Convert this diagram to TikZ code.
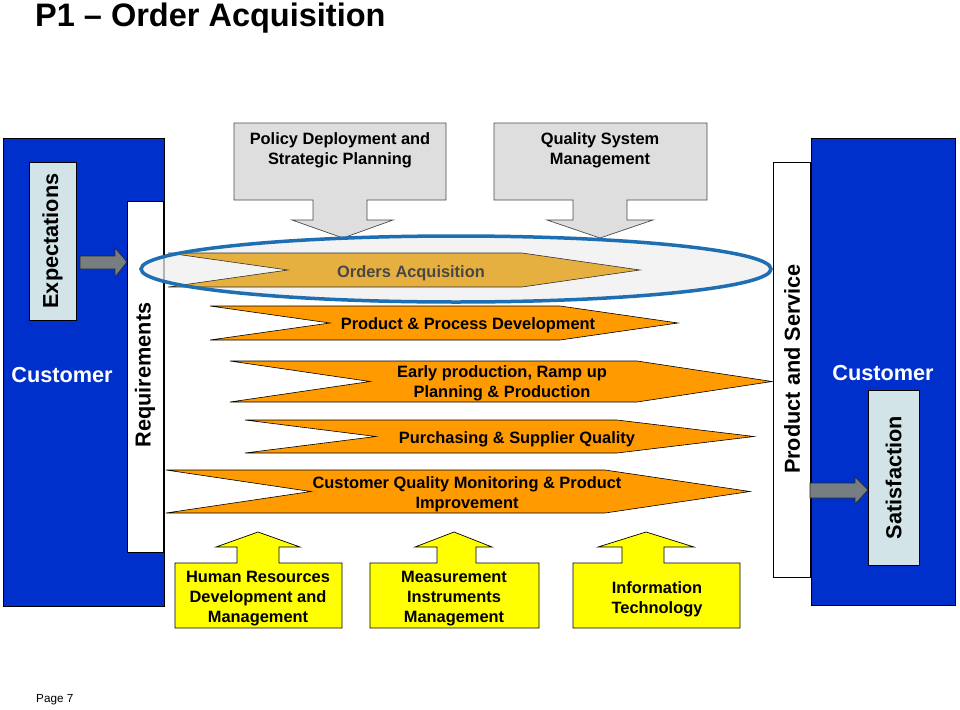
\documentclass[tikz,border=0pt]{standalone}
\usepackage{fontspec}
\setmainfont{Liberation Sans}
\newcommand\fbody{\fontsize{16.4}{20}\selectfont}
\newcommand\fbig{\fontsize{21.7}{26}\selectfont}
\newcommand\ftitle{\fontsize{32.5}{38}\selectfont}
\definecolor{custblue}{RGB}{0,48,204}
\definecolor{lightbox}{RGB}{210,228,232}
\definecolor{chev}{RGB}{255,154,0}
\definecolor{chevmuted}{RGB}{230,176,64}
\definecolor{ellblue}{RGB}{30,110,180}
\definecolor{ellfill}{RGB}{240,240,240}
\definecolor{arrgray}{RGB}{118,126,130}
\definecolor{topgray}{RGB}{222,222,222}
\definecolor{ylw}{RGB}{255,255,0}
\begin{document}
\begin{tikzpicture}[x=1pt,y=-1pt,font=\bfseries,
  box/.style={draw=black,line width=0.7pt,inner sep=0pt,outer sep=0pt,anchor=north west},
  bluebox/.style={box,fill=custblue},
  chevron/.style={fill=chev,draw=black,line width=0.6pt},
  txt/.style={inner sep=0pt,align=center,font=\bfseries\fbody,yshift=-2pt},
  bigtxt/.style={inner sep=0pt,font=\bfseries\fbig},
  topbox/.style={fill=topgray,draw=black!70,line width=0.7pt},
  ybox/.style={fill=ylw,draw=black,line width=0.7pt},
  garrow/.style={fill=arrgray,draw=black!85,line width=0.6pt}]
\useasboundingbox (0,0) rectangle (960,709);
\fill[white] (0,0) rectangle (960,709);

% title
\node[anchor=base west,inner sep=0pt,font=\bfseries\ftitle] (title) at (35,27) {P1 -- Order Acquisition};
\node[anchor=west,inner sep=0pt,font=\mdseries\fontsize{11.7}{14}\selectfont] (page) at (36,700) {Page 7};

% customer boxes
\node[bluebox,minimum width=161,minimum height=468] (custL) at (3,138) {};
\node[bluebox,minimum width=144,minimum height=467] (custR) at (811,138) {};
\node[box,fill=white,minimum width=36,minimum height=351] (req) at (127,201) {};
\node[box,fill=white,minimum width=37,minimum height=415] (ps) at (773,162) {};
\node[box,fill=lightbox,minimum width=47,minimum height=158] (exp) at (29,162) {};
\node[box,fill=lightbox,minimum width=51,minimum height=175] (sat) at (868,390) {};

\node[bigtxt,rotate=90] (expT) at (exp.center) {Expectations};
\node[bigtxt,rotate=90] (satT) at (sat.center) {Satisfaction};
\node[bigtxt,rotate=90] (reqT) at (145,375) {Requirements};
\node[bigtxt,rotate=90] (psT) at (792,369) {Product and Service};
\node[bigtxt,text=white] (custLT) at (62,375) {Customer};
\node[bigtxt,text=white] (custRT) at (883,373) {Customer};

% gray block arrows
\draw[garrow] (exp.east |- 0,256) ++(4,0) -- (115,256) -- (115,248) -- (req.west |- 0,262) -- (115,277) -- (115,269) -- (80,269) -- cycle;
\draw[garrow] (ps.east |- 0,483) -- (855,483) -- (855,477) -- (sat.west |- 0,490) -- (855,504) -- (855,498) -- (810,498) -- cycle;

% top gray callouts
\draw[topbox] (234,123) -- (446,123) -- (446,200) -- (367,200) -- (367,220) -- (393,220) -- (343,238) -- (292,220) -- (313,220) -- (313,200) -- (234,200) -- cycle;
\draw[topbox] (494,123) -- (707,123) -- (707,200) -- (627,200) -- (627,220) -- (653,220) -- (600,238) -- (547,220) -- (573,220) -- (573,200) -- (494,200) -- cycle;
\node[txt] (policy) at (340,148) {Policy Deployment and\\Strategic Planning};
\node[txt] (qsm) at (600,148) {Quality System\\Management};

% ellipse and Orders Acquisition
\fill[ellfill,fill opacity=0.75] (456,269) ellipse [x radius=315pt,y radius=33pt];
\draw[fill=chevmuted,draw=black!80,line width=0.6pt] (168,253) -- (522,253) -- (640,270) -- (522,287) -- (168,287) -- (288,270) -- cycle;
\draw[ellblue,line width=3.5pt] (456,269) ellipse [x radius=315pt,y radius=33pt];
\node[txt,text=black!72] (oa) at (411,271) {Orders Acquisition};

% chevrons
\draw[chevron] (210,306) -- (560,306) -- (678,323) -- (560,340) -- (210,340) -- (330,323) -- cycle;
\node[txt] (ppd) at (468,323) {Product \& Process Development};
\draw[chevron] (230,361) -- (637,361) -- (772,381.5) -- (637,402) -- (230,402) -- (370,381.5) -- cycle;
\node[txt] (early) at (502,381) {Early production, Ramp up\\Planning \& Production};
\draw[chevron] (245,420) -- (617,420) -- (754,436.5) -- (617,453) -- (245,453) -- (376,436.5) -- cycle;
\node[txt] (purch) at (517,437) {Purchasing \& Supplier Quality};
\draw[chevron] (166,470) -- (605,470) -- (750,491.5) -- (605,513) -- (166,513) -- (311,491.5) -- cycle;
\node[txt] (cqm) at (467,492) {Customer Quality Monitoring \& Product\\Improvement};

% bottom yellow callouts
\draw[ybox] (175,628) -- (175,563) -- (237,563) -- (237,547) -- (216,547) -- (258,532) -- (300,547) -- (279,547) -- (279,563) -- (342,563) -- (342,628) -- cycle;
\draw[ybox] (370,628) -- (370,563) -- (437,563) -- (437,547) -- (415,547) -- (454,532) -- (492,547) -- (476,547) -- (476,563) -- (539,563) -- (539,628) -- cycle;
\draw[ybox] (573,628) -- (573,563) -- (622,563) -- (622,547) -- (598,547) -- (646,532) -- (694,547) -- (664,547) -- (664,563) -- (740,563) -- (740,628) -- cycle;
\node[txt] (hr) at (258,597) {Human Resources\\Development and\\Management};
\node[txt] (mim) at (454,597) {Measurement\\Instruments\\Management};
\node[txt] (it) at (657,597) {Information\\Technology};
\end{tikzpicture}
\end{document}
